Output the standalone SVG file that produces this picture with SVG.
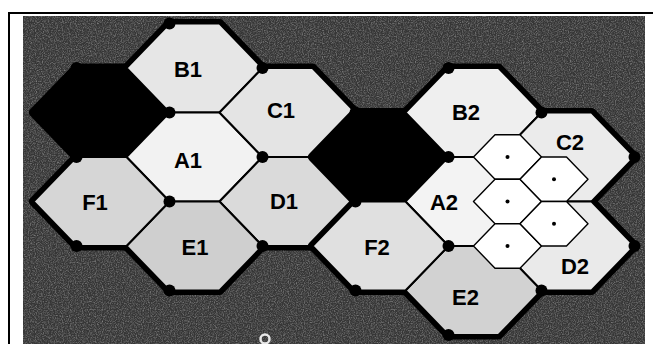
<svg xmlns="http://www.w3.org/2000/svg" xmlns:xlink="http://www.w3.org/1999/xlink" width="653" height="344" viewBox="0 0 653 344">
<style>
.thick{fill:#000;stroke:#000;stroke-width:9;stroke-linejoin:round}
.hx{stroke:#000;stroke-width:2;stroke-linejoin:round}
.sh{fill:#fff;stroke:#000;stroke-width:1.4;stroke-linejoin:round}
.lbl{font-family:"Liberation Sans",Arial,sans-serif;font-weight:bold;font-size:22px;text-anchor:middle;fill:#000}
.dot{fill:#000}
</style>
<defs>
<polygon id="hex" points="-68,0 -25,-44.5 25,-44.5 68,0 25,44.5 -25,44.5"/>
<polygon id="shex" points="-34,0 -12.5,-22.25 12.5,-22.25 34,0 12.5,22.25 -12.5,22.25"/>
<filter id="noise" x="0" y="0" width="100%" height="100%">
<feTurbulence type="fractalNoise" baseFrequency="0.85" numOctaves="2" seed="4"/>
<feColorMatrix type="matrix" values="0 0 0 0 1  0 0 0 0 1  0 0 0 0 1  1.8 0 0 0 -0.72"/>
</filter>
</defs>
<rect width="653" height="344" fill="#fff"/>
<g id="frame">
<rect x="23" y="16" width="622" height="328" fill="#363636"/>
<rect x="23" y="16" width="622" height="328" filter="url(#noise)" opacity="0.4"/>
<line x1="8" y1="13" x2="653" y2="13" stroke="#000" stroke-width="2"/>
<line x1="9" y1="12" x2="9" y2="344" stroke="#000" stroke-width="2"/>
</g>
<g id="outline-1">
<use href="#hex" class="thick" x="101.5" y="112.5"/>
<use href="#hex" class="thick" x="194.5" y="68"/>
<use href="#hex" class="thick" x="194.5" y="157"/>
<use href="#hex" class="thick" x="287.5" y="112.5"/>
<use href="#hex" class="thick" x="287.5" y="201.5"/>
<use href="#hex" class="thick" x="194.5" y="246"/>
<use href="#hex" class="thick" x="101.5" y="201.5"/>
</g>
<g id="black-1"><use href="#hex" class="hx" fill="#000" x="101.5" y="112.5"/></g>
<g id="B1"><use href="#hex" class="hx" fill="#e6e6e6" x="194.5" y="68"/><text class="lbl" x="188" y="77">B1</text></g>
<g id="A1"><use href="#hex" class="hx" fill="#f2f2f2" x="194.5" y="157"/><text class="lbl" x="188" y="168">A1</text></g>
<g id="C1"><use href="#hex" class="hx" fill="#e4e4e4" x="287.5" y="112.5"/><text class="lbl" x="281" y="118">C1</text></g>
<g id="D1"><use href="#hex" class="hx" fill="#dadada" x="287.5" y="201.5"/><text class="lbl" x="284" y="209">D1</text></g>
<g id="E1"><use href="#hex" class="hx" fill="#cfcfcf" x="194.5" y="246"/><text class="lbl" x="195" y="255">E1</text></g>
<g id="F1"><use href="#hex" class="hx" fill="#d6d6d6" x="101.5" y="201.5"/><text class="lbl" x="95" y="210">F1</text></g>
<g id="outline-2">
<use href="#hex" class="thick" x="380.5" y="157"/>
<use href="#hex" class="thick" x="473.5" y="112.5"/>
<use href="#hex" class="thick" x="473.5" y="201.5"/>
<use href="#hex" class="thick" x="566.5" y="157"/>
<use href="#hex" class="thick" x="566.5" y="246"/>
<use href="#hex" class="thick" x="473.5" y="290.5"/>
<use href="#hex" class="thick" x="380.5" y="246"/>
</g>
<g id="black-2"><use href="#hex" class="hx" fill="#000" x="380.5" y="157"/></g>
<g id="B2"><use href="#hex" class="hx" fill="#efefef" x="473.5" y="112.5"/><text class="lbl" x="466" y="120">B2</text></g>
<g id="A2"><use href="#hex" class="hx" fill="#f3f3f3" x="473.5" y="201.5"/><text class="lbl" x="444" y="210">A2</text></g>
<g id="C2"><use href="#hex" class="hx" fill="#ebebeb" x="566.5" y="157"/><text class="lbl" x="570" y="150">C2</text></g>
<g id="D2"><use href="#hex" class="hx" fill="#eaeaea" x="566.5" y="246"/><text class="lbl" x="575" y="274">D2</text></g>
<g id="E2"><use href="#hex" class="hx" fill="#d2d2d2" x="473.5" y="290.5"/><text class="lbl" x="465.5" y="305">E2</text></g>
<g id="F2"><use href="#hex" class="hx" fill="#e0e0e0" x="380.5" y="246"/><text class="lbl" x="377" y="255">F2</text></g>
<g id="junctions">
<circle class="dot" cx="76.5" cy="68" r="6"/>
<circle class="dot" cx="169.5" cy="112.5" r="6"/>
<circle class="dot" cx="76.5" cy="157" r="6"/>
<circle class="dot" cx="169.5" cy="23.5" r="6"/>
<circle class="dot" cx="262.5" cy="68" r="6"/>
<circle class="dot" cx="355.5" cy="112.5" r="6"/>
<circle class="dot" cx="262.5" cy="157" r="6"/>
<circle class="dot" cx="169.5" cy="201.5" r="6"/>
<circle class="dot" cx="355.5" cy="201.5" r="6"/>
<circle class="dot" cx="262.5" cy="246" r="6"/>
<circle class="dot" cx="169.5" cy="290.5" r="6"/>
<circle class="dot" cx="76.5" cy="246" r="6"/>
<circle class="dot" cx="448.5" cy="157" r="6"/>
<circle class="dot" cx="448.5" cy="68" r="6"/>
<circle class="dot" cx="541.5" cy="112.5" r="6"/>
<circle class="dot" cx="448.5" cy="246" r="6"/>
<circle class="dot" cx="634.5" cy="157" r="6"/>
<circle class="dot" cx="634.5" cy="246" r="6"/>
<circle class="dot" cx="541.5" cy="290.5" r="6"/>
<circle class="dot" cx="448.5" cy="335" r="6"/>
<circle class="dot" cx="355.5" cy="290.5" r="6"/>
</g>
<g id="cell-1"><use href="#shex" class="sh" x="507.5" y="157"/><circle class="dot" cx="507.5" cy="157" r="2"/></g>
<g id="cell-2"><use href="#shex" class="sh" x="507.5" y="201.5"/><circle class="dot" cx="507.5" cy="201.5" r="2"/></g>
<g id="cell-3"><use href="#shex" class="sh" x="507.5" y="246"/><circle class="dot" cx="507.5" cy="246" r="2"/></g>
<g id="cell-4"><use href="#shex" class="sh" x="554" y="179.25"/><circle class="dot" cx="554" cy="179.25" r="2"/></g>
<g id="cell-5"><use href="#shex" class="sh" x="554" y="223.75"/><circle class="dot" cx="554" cy="223.75" r="2"/></g>
<g id="connectors"></g>
<circle cx="265" cy="339" r="4.5" fill="none" stroke="#e8e8e8" stroke-width="2.5"/>
</svg>
